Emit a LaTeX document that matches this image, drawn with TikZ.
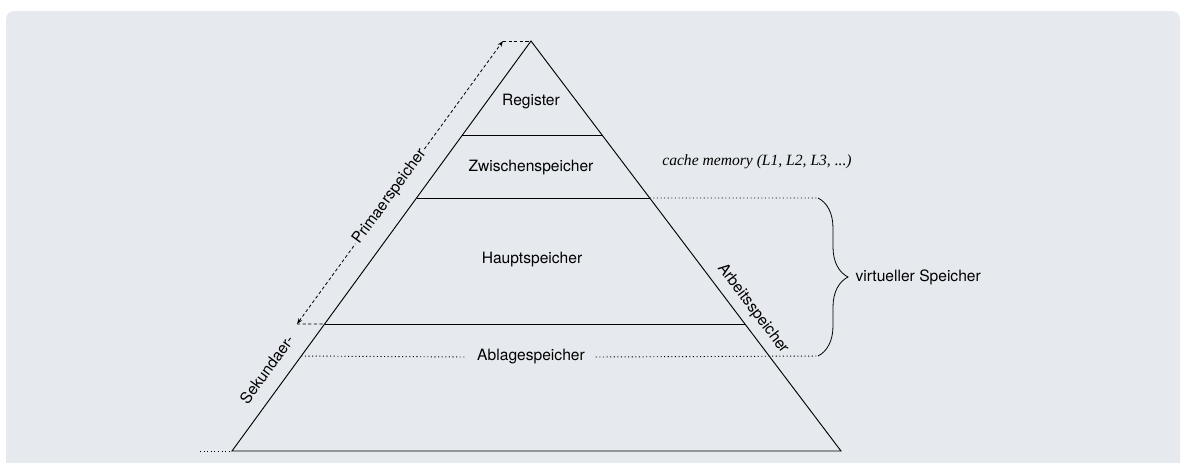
\documentclass[tikz,border=0pt]{standalone}
\usepackage{fontspec}
\setmainfont{TeX Gyre Heros}
\newfontfamily\notefont{Liberation Serif}
\usepackage{tikz}
\usetikzlibrary{calc}
\usetikzlibrary{arrows.meta}
\usetikzlibrary{decorations.pathreplacing}

\definecolor{paper}{HTML}{E6EAEE}

\begin{document}
\begin{tikzpicture}[x=0.75pt,y=-0.75pt,
        every node/.style={font=\fontsize{11.7}{14}\selectfont},
        layer/.style={line width=0.7pt},
        dotline/.style={line width=0.7pt, dash pattern=on 0.8pt off 1.9pt},
        dashline/.style={line width=0.6pt, dash pattern=on 2.4pt off 1.8pt},
        >={Stealth[length=4.5pt,width=3.2pt]}]

        % Fix the picture size and the background card
        \useasboundingbox (0,0) rectangle (1183,462);
        \fill[paper, rounded corners=6pt] (6,11) rectangle (1180,480);

        % Corners of the pyramid
        \coordinate (T) at (531,41);
        \coordinate (L) at (232,451);
        \coordinate (R) at (841,451);

        % Draw the pyramid boundary
        \draw[layer] (T) -- (L) -- (R) -- cycle;

        % Draw the levels
        \foreach \t/\n in {0.2293/a, 0.3829/b, 0.6902/c}
            \draw[layer] ($(T)!\t!(L)$) coordinate (l\n) -- ($(T)!\t!(R)$) coordinate (r\n);
        \coordinate (ld) at ($(T)!0.7683!(L)$);

        % Level names
        \node (register) at (531,102) {Register};
        \node (zwischen) at (531,168) {Zwischenspeicher};
        \node (haupt) at (532,260) {Hauptspeicher};
        \node[fill=paper, inner xsep=8pt] (ablage) at (531,357) {Ablagespeicher};
        \node (cachenote) at (757,162) {\notefont\itshape cache memory (L1, L2, L3, ...)};

        % Virtual memory brace
        \coordinate (vtop) at (818,198);
        \coordinate (vbot) at (818,356);
        \draw[dotline] (rb) -- (vtop);
        \draw[dotline] (ld) -- (ablage.west);
        \draw[dotline] (ablage.east) -- (vbot);
        \draw[line width=0.6pt, decorate, decoration={brace, amplitude=22.5pt}] (vtop) -- (vbot)
            node[midway, anchor=west, xshift=24.5pt] (virt) {virtueller Speicher};

        % Primary memory arrow
        \coordinate (ptop) at (503,41);
        \coordinate (pbot) at (297,324);
        \draw[dashline] (ptop) -- (T);
        \draw[dashline] (pbot) -- (lc);
        \draw[dashline, <->] (pbot) -- node[sloped, pos=0.45, fill=paper, inner sep=1pt] (prim) {Primaerspeicher} (ptop);
        \draw[dotline] (200,451) coordinate (bl) -- (L);

        % Side labels
        \path (L) -- node[sloped, above=7pt, pos=0.17] (sek) {Sekundaer-} (T);
        \path (T) -- node[sloped, above=2.5pt, pos=0.676] (arbeit) {Arbeitsspeicher} (R);

\end{tikzpicture}
\end{document}
